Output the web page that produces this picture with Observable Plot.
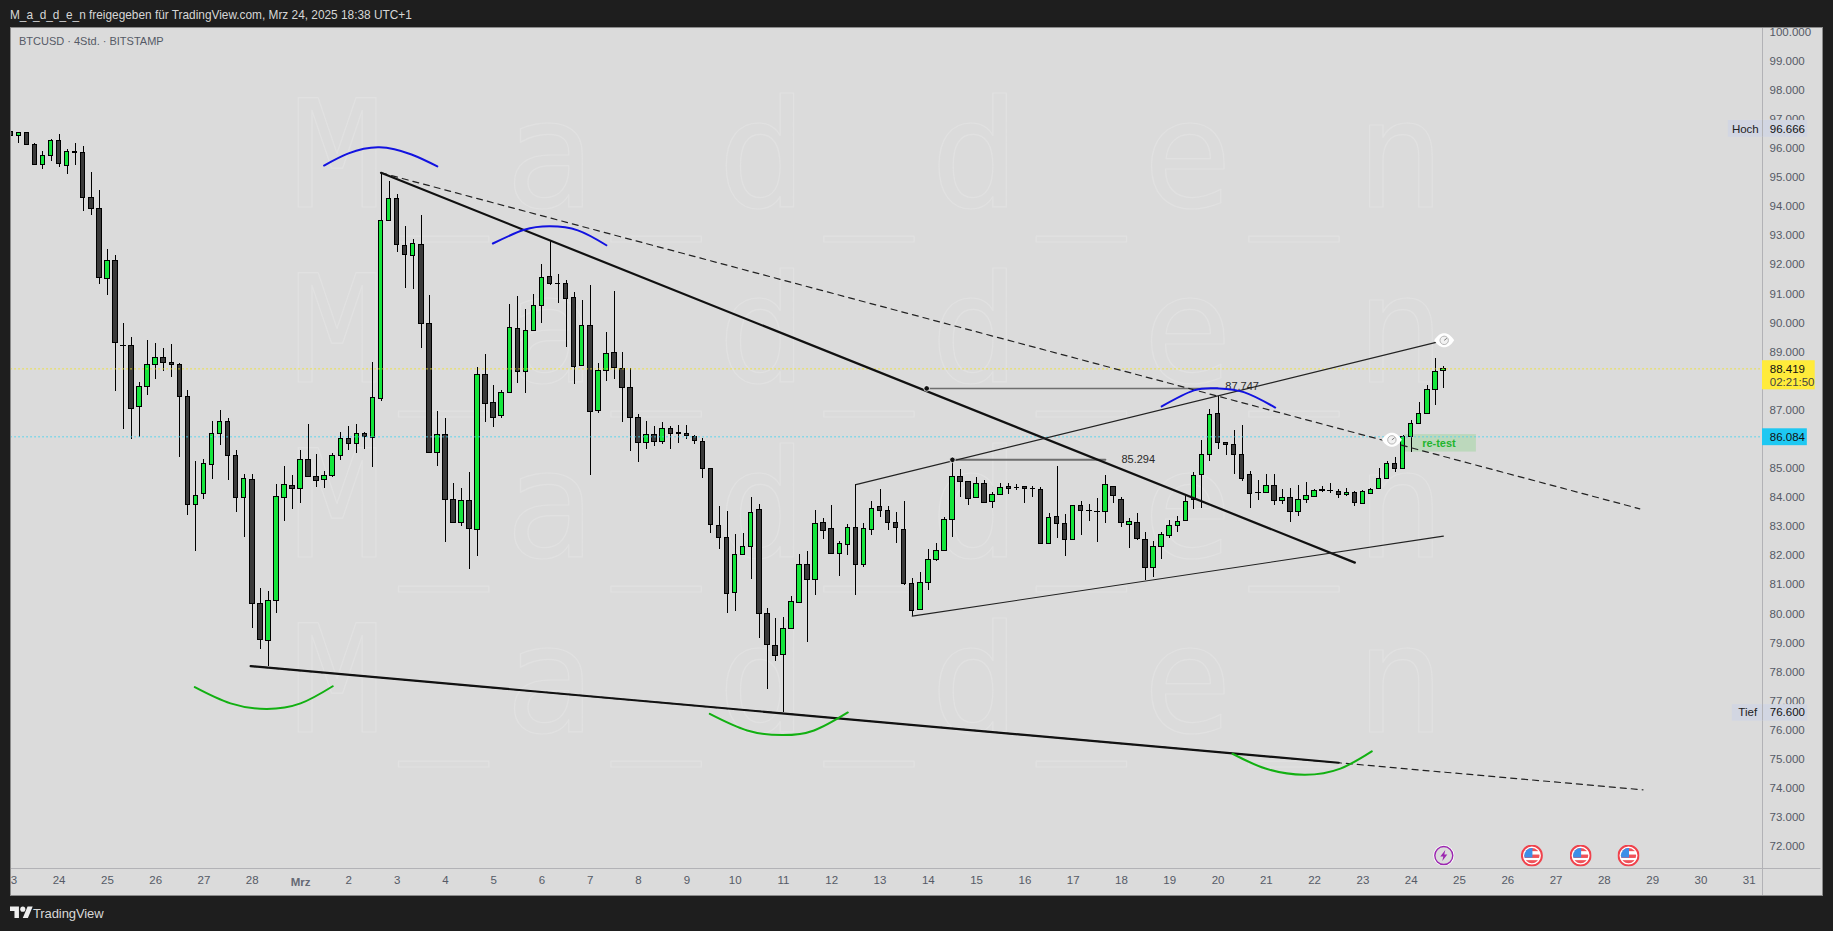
<!DOCTYPE html>
<html lang="de">
<head>
<meta charset="utf-8">
<script src="https://cdn.jsdelivr.net/npm/d3@7"></script>
<script src="https://cdn.jsdelivr.net/npm/@observablehq/plot@0.6"></script>
<style>
html,body{margin:0;padding:0;width:1833px;height:931px;overflow:hidden;background:#1e1e1e;font-family:"Liberation Sans",Arial,sans-serif}
#head{position:absolute;left:10px;top:7px;font-size:11.85px;line-height:16px;color:#d6d6d6;white-space:nowrap}
#chart{position:absolute;left:10px;top:27px;width:1813px;height:869px;overflow:hidden;outline:1px solid #8b8b8b;outline-offset:-1px}
#chart svg{display:block;overflow:hidden}
.wm text{letter-spacing:16px}
#foot{position:absolute;left:10px;top:904px;height:18px;display:flex;align-items:center;color:#d8d8d8;font-size:13px;letter-spacing:-.1px}
#foot svg{width:23px;height:18px;margin-right:0;fill:#eee}
</style>
</head>
<body>
<div id="head">M_a_d_d_e_n freigegeben für TradingView.com, Mrz 24, 2025 18:38 UTC+1</div>
<div id="chart"></div>
<div id="foot"><svg viewBox="0 0 36 28"><path d="M14 22H7V11H0V4h14v18zM28 22h-8l7.5-18h8L28 22z"/><circle cx="20" cy="8" r="4"/></svg>TradingView</div>
<script>
// 4h candles (thousand USD), candle 0 = 23 Feb 2025 00:00 UTC
const open = [96.57,96.43,96.52,96.12,95.43,95.74,96.26,95.40,95.88,95.85,94.30,93.92,91.52,92.13,89.22,89.21,87.12,87.80,88.56,88.80,88.63,88.56,87.46,83.73,84.12,85.12,86.19,86.60,85.43,83.99,84.61,80.34,79.07,80.45,83.99,84.40,84.30,85.29,84.71,84.61,84.74,85.43,86.02,85.84,86.19,86.05,87.39,93.51,94.27,92.65,92.29,92.68,89.97,85.54,86.15,83.92,83.13,83.88,82.89,88.22,87.25,86.81,87.60,89.80,88.32,89.73,90.59,91.58,91.35,91.34,90.86,88.53,89.90,86.98,88.35,88.97,88.42,87.77,86.74,85.88,86.15,85.91,86.36,86.20,86.19,86.08,85.91,84.98,83.03,82.61,80.72,82.03,82.30,83.57,80.00,78.90,78.59,79.48,80.38,81.68,81.17,83.13,82.92,82.06,82.38,82.96,81.68,82.89,83.68,83.54,83.13,82.89,81.03,80.13,81.07,81.86,82.17,83.23,84.71,84.54,83.99,84.47,83.85,84.09,84.37,84.32,84.37,84.29,84.26,82.41,83.33,83.09,82.54,83.71,83.54,83.51,83.49,84.37,83.92,83.06,83.13,82.54,81.58,82.30,82.68,83.03,83.20,83.92,84.78,85.47,86.88,85.88,85.81,85.47,84.78,84.17,84.16,84.40,83.88,83.99,83.51,83.92,84.02,84.22,84.23,84.19,84.09,84.16,83.78,84.12,84.30,84.64,85.16,84.98,86.08,86.53,86.88,87.70,88.35];
const high = [96.67,96.56,96.52,96.17,95.88,96.30,96.48,95.95,96.17,96.06,95.17,94.55,92.52,92.32,89.97,89.49,87.95,89.40,89.29,89.12,89.26,88.59,87.68,85.24,85.29,86.60,86.99,86.70,85.61,84.79,84.79,80.87,80.77,84.45,85.06,84.75,85.61,86.51,85.48,84.89,85.50,86.22,86.44,86.51,86.23,88.63,95.17,94.86,94.41,93.31,92.87,93.69,90.94,86.94,86.70,84.47,84.30,84.85,88.46,88.90,87.85,87.68,90.62,90.91,90.46,90.98,92.01,92.81,91.66,91.46,91.05,90.77,91.29,88.60,89.66,91.08,88.98,88.42,86.84,86.60,86.44,86.58,86.43,86.47,86.47,86.13,86.01,84.98,83.69,83.52,82.73,82.75,83.99,83.75,80.17,79.84,79.87,80.59,82.04,82.14,83.55,83.28,83.72,82.49,83.06,84.45,83.09,83.86,84.26,83.69,83.48,83.86,81.20,81.41,82.21,82.42,83.30,85.29,84.95,84.54,84.68,84.57,84.16,84.48,84.47,84.43,84.38,84.39,84.33,83.44,85.05,83.41,83.71,83.86,83.76,83.95,84.74,84.37,83.99,83.27,83.44,82.78,82.48,82.78,83.20,83.33,84.06,84.85,85.96,87.01,87.47,85.88,86.30,86.46,84.88,84.57,84.78,84.78,84.26,84.30,84.40,84.50,84.26,84.37,84.48,84.26,84.30,84.19,84.23,84.30,84.98,85.23,85.36,86.12,86.63,87.25,87.84,88.77,88.50];
const low = [96.43,96.18,96.12,95.43,95.28,95.56,95.35,95.11,95.42,93.84,93.70,91.33,90.95,87.65,86.32,85.98,86.07,87.50,88.06,88.34,88.13,85.37,83.39,82.15,83.94,84.63,85.80,84.59,83.49,82.63,79.50,78.78,78.20,80.02,83.18,83.60,83.80,84.71,84.35,84.32,84.67,85.27,85.61,85.52,85.66,85.04,87.31,93.51,92.43,91.19,91.16,89.13,85.54,85.07,82.46,83.13,83.01,81.52,81.98,86.59,86.41,86.72,87.60,87.93,87.58,89.69,89.99,91.28,90.66,89.14,87.87,88.49,84.74,86.88,88.00,88.05,86.59,85.59,85.21,85.66,85.76,85.83,85.66,85.87,85.98,85.83,84.66,82.77,82.22,80.02,80.09,81.99,81.19,79.16,77.41,78.37,76.60,79.45,80.34,79.02,80.64,82.57,82.06,81.29,82.00,80.62,81.60,82.70,83.32,82.87,82.43,80.96,79.91,80.10,80.81,81.79,82.17,82.62,83.99,83.73,83.99,83.82,83.62,84.06,84.10,84.24,83.78,83.99,82.41,82.41,82.58,81.98,82.54,82.69,83.17,82.45,83.11,83.78,82.98,82.25,82.53,81.14,81.26,81.88,82.58,82.80,83.20,83.57,83.61,85.25,85.66,85.45,84.80,84.56,83.63,83.90,84.16,83.73,83.75,83.15,83.36,83.80,83.99,84.16,84.12,83.97,84.04,83.70,83.78,84.09,84.26,84.60,84.85,84.95,85.55,86.53,86.88,87.17,87.73];
const close = [96.43,96.52,96.12,95.43,95.73,96.26,95.47,95.87,95.83,94.30,93.92,91.55,92.13,89.32,89.20,87.05,87.80,88.56,88.80,88.61,88.56,87.46,83.73,84.06,85.16,86.19,86.60,85.43,83.99,84.64,80.34,79.10,80.45,84.02,84.43,84.30,85.29,84.71,84.57,84.74,85.43,86.02,85.84,86.19,86.08,87.43,93.51,94.27,92.68,92.33,92.72,89.97,85.54,86.15,83.92,83.13,83.88,82.92,88.22,87.22,86.74,87.60,89.83,88.32,89.73,90.59,91.55,91.34,91.33,90.83,88.49,89.90,86.94,88.35,88.94,88.46,87.77,86.74,85.88,86.15,85.91,86.36,86.19,86.18,86.12,85.95,84.98,83.06,82.61,80.69,82.03,82.30,83.47,80.00,78.93,78.56,79.48,80.41,81.68,81.17,83.09,82.85,82.06,82.41,82.96,81.68,82.92,83.61,83.54,83.13,82.96,81.03,80.10,81.07,81.86,82.17,83.23,84.71,84.54,83.95,84.47,83.82,84.09,84.33,84.30,84.31,84.30,84.28,82.41,83.30,83.09,82.54,83.71,83.53,83.52,83.49,84.43,84.06,83.13,83.16,82.56,81.58,82.30,82.72,83.03,83.16,83.85,84.74,85.47,86.84,85.88,85.80,85.45,84.63,84.12,84.15,84.40,83.88,83.99,83.51,83.92,84.06,84.23,84.24,84.21,84.09,84.16,83.82,84.19,84.26,84.64,85.16,84.98,86.08,86.53,86.88,87.70,88.32,88.42];

const priceTicks = d3.range(72, 101);
const monthLabel = "Mrz";
const febDays = [23,24,25,26,27,28];
const marDays = d3.range(2, 32);

// annotations: [candle index, price]
const thickDown = [[46,95.16],[167,81.76]];
const thickBottom = [[29.8,78.20],[165,74.88]];
const dashedDown = [[46,95.16],[202.4,83.61]];
const dashedBottom = [[29.8,78.20],[202.8,73.95]];
const thinUpper = [[105,84.44],[178.1,89.40]];
const thinLower = [[112,79.92],[178,82.67]];
const level85 = [[117,85.294],[136,85.294]];
const level87 = [[113.8,87.747],[150,87.747]];
const blueArcs = [
  [[38.92,95.41],[41.96,95.83],[45.79,96.04],[49.79,95.79],[53,95.38]],
  [[59.9,92.73],[63.8,93.20],[67,93.32],[70.45,93.18],[74,92.67]],
  [[143,87.13],[147,87.68],[149.9,87.75],[153.2,87.62],[157.1,87.09]]
];
const greenArcs = [
  [[22.86,77.48],[27.3,76.92],[31.77,76.73],[36,76.92],[40,77.51]],
  [[86.85,76.56],[91.5,75.99],[95.85,75.83],[99.8,75.99],[104,76.61]],
  [[151.8,75.19],[155.9,74.68],[160.7,74.47],[165.2,74.68],[169.1,75.27]]
];
const eyes = [[178.1,89.40],[171.6,85.98]];
const anchorsDots = [[117,85.294],[113.8,87.747]];
const levelLabels = [{i:138,p:85.294,s:"85.294"},{i:150.9,p:87.80,s:"87.747"}];
const watermarkRows = [95.65,89.63,83.62,77.60];
const lastPrice = 88.419, prevPrice = 86.084;
const flagEvents = [189,195.05,201];
const boltEvents = [178.05];

const t0 = Date.UTC(2025,1,23);
const T = i => new Date(t0 + i*4*3600e3);
const toRows = a => a.map(([i,p]) => ({x:T(i), y:p}));
const candles = open.map((o,i)=>({x:T(i), x1:T(i-0.28), x2:T(i+0.28), o, h:high[i], l:low[i], c:close[i], up:close[i]>=o}));
const dayTicks = [...febDays.map(d=>new Date(Date.UTC(2025,1,d))), ...marDays.map(d=>new Date(Date.UTC(2025,2,d)))];

const line = (a,o) => Plot.line(toRows(a),{x:"x",y:"y",...o});
const flagSvg = "data:image/svg+xml,"+encodeURIComponent(`<svg xmlns='http://www.w3.org/2000/svg' viewBox='0 0 22 22'><circle cx='11' cy='11' r='10' fill='#fff' stroke='#f0424c' stroke-width='2'/><clipPath id='c'><circle cx='11' cy='11' r='7.6'/></clipPath><g clip-path='url(#c)'><rect width='22' height='22' fill='#fff'/><rect y='10' width='22' height='3.4' fill='#f0525a'/><rect y='3' width='22' height='3.6' fill='#f0525a'/><rect y='15.6' width='22' height='4' fill='#f0525a'/><rect width='11.5' height='10' y='3' fill='#3d8fe8'/></g></svg>`);
const boltSvg = "data:image/svg+xml,"+encodeURIComponent(`<svg xmlns='http://www.w3.org/2000/svg' viewBox='0 0 22 22'><circle cx='11' cy='11' r='10.5' fill='#fff'/><circle cx='11' cy='11' r='9' fill='#dbdbdb' stroke='#9c27b0' stroke-width='1.4'/><path d='M12.5 5.5 7.5 12h3l-1 4.5 5-6.5h-3z' fill='#9c27b0'/></svg>`);
const eyeSvg = "data:image/svg+xml,"+encodeURIComponent(`<svg xmlns='http://www.w3.org/2000/svg' viewBox='0 0 22 16'><path d='M1 8C5 2 8 1 11 1s6 1 10 7c-4 6-7 7-10 7S5 14 1 8z' fill='#fff'/><circle cx='11' cy='8' r='4.2' fill='#f2f2f2' stroke='#b5b5b5' stroke-width='1'/><path d='M11 8l2.6-2' stroke='#777' stroke-width='1'/></svg>`);

const fontUI = "Liberation Sans";
const chart = Plot.plot({
  width: 1813, height: 869,
  marginLeft: 1, marginRight: 61, marginTop: 0, marginBottom: 28,
  x: {type:"utc", domain:[T(0.087), T(217.65)], range:[1,1752]},
  y: {type:"linear", domain:[71.245,100.155], range:[841,0]},
  style: {background:"#dbdbdb", fontFamily:fontUI, overflow:"hidden"},
  marks: [
    // watermark
    Plot.text(watermarkRows,{x:()=>T(107.6), y:d=>d, text:()=>"M_a_d_d_e_n", fontSize:150, fontFamily:"DejaVu Sans Mono", fill:"none", stroke:"#e1e1e1", strokeWidth:1.2, className:"wm"}),
    // axes
    Plot.axisY(priceTicks,{anchor:"right", tickSize:0, tickPadding:7, tickFormat:d=>d.toFixed(3), fontSize:11.5, color:"#555a66"}),
    Plot.axisX(dayTicks,{anchor:"bottom", tickSize:0, tickPadding:7, tickFormat:d=>String(d.getUTCDate()), fontSize:11.5, color:"#555a66"}),
    Plot.text([monthLabel],{x:()=>new Date(Date.UTC(2025,2,1)), y:()=>70.78, text:d=>d, fontSize:11.5, fontWeight:"bold", fill:"#666a74"}),
    Plot.ruleX([T(217.65)],{y1:100.2,y2:70.2,stroke:"#b2b2b6"}),
    Plot.ruleY([71.245],{x1:T(0),x2:T(224.9),stroke:"#b2b2b6"}),
    // re-test zone
    Plot.rect([0],{x1:()=>T(173.2),x2:()=>T(182.1),y1:()=>85.56,y2:()=>86.16,fill:"#bcd8bc"}),
    // candles
    Plot.ruleX(candles,{x:"x",y1:"l",y2:"h",stroke:"#000",strokeWidth:1,shapeRendering:"crispEdges"}),
    Plot.rect(candles,{x1:"x1",x2:"x2",y1:"o",y2:"c",fill:d=>d.up?"#14e63c":"#3a3a3a",stroke:"#000",strokeWidth:1,shapeRendering:"crispEdges"}),
    // last price lines
    Plot.ruleY([lastPrice],{x1:T(0),x2:T(217.6),stroke:"#f0e020",strokeDasharray:"1.5 2.5"}),
    Plot.ruleY([prevPrice],{x1:T(0),x2:T(217.6),stroke:"#3fd3f0",strokeDasharray:"1.5 2.5"}),
    // levels
    line(level85,{stroke:"#6e6e6e",strokeWidth:2}),
    line(level87,{stroke:"#6e6e6e",strokeWidth:1.5}),
    Plot.text(levelLabels,{x:d=>T(d.i),y:"p",text:"s",textAnchor:"start",fontSize:11,fill:"#2a2a2a"}),
    // trend lines
    line(dashedDown,{stroke:"#222",strokeWidth:1.2,strokeDasharray:"6 5"}),
    line(dashedBottom,{stroke:"#222",strokeWidth:1.2,strokeDasharray:"6 5"}),
    line(thickDown,{stroke:"#111",strokeWidth:2.2}),
    line(thickBottom,{stroke:"#111",strokeWidth:2.2}),
    line(thinUpper,{stroke:"#222",strokeWidth:1.1}),
    line(thinLower,{stroke:"#222",strokeWidth:1.1}),
    ...blueArcs.map(a=>line(a,{stroke:"#1212e0",strokeWidth:2,curve:"natural"})),
    ...greenArcs.map(a=>line(a,{stroke:"#12b012",strokeWidth:2,curve:"natural"})),
    Plot.dot(anchorsDots,{x:d=>T(d[0]),y:d=>d[1],r:2.8,fill:"#111",stroke:"#fff",strokeWidth:.8}),
    // eyes
    Plot.image(eyes,{x:d=>T(d[0]),y:d=>d[1],src:()=>eyeSvg,width:22,height:16,preserveAspectRatio:"none"}),
    Plot.text(["re-test"],{x:()=>T(177.45),y:()=>85.84,text:d=>d,fontSize:11,fontWeight:"bold",fill:"#22b52e"}),
    // events
    Plot.image(flagEvents,{x:d=>T(d),y:()=>71.69,src:()=>flagSvg,width:22,height:22}),
    Plot.image(boltEvents,{x:d=>T(d),y:()=>71.69,src:()=>boltSvg,width:22,height:22}),
    // price tags
    Plot.rect([0],{x1:()=>T(213.4),x2:()=>T(223.26),y1:()=>96.38,y2:()=>96.96,fill:"#d2d6e2"}),
    Plot.rect([0],{x1:()=>T(213.9),x2:()=>T(223.26),y1:()=>76.31,y2:()=>76.88,fill:"#d2d6e2"}),
    Plot.rect([0],{x1:()=>T(217.65),x2:()=>T(224.2),y1:()=>87.70,y2:()=>88.70,fill:"#ffeb3b"}),
    Plot.rect([0],{x1:()=>T(217.65),x2:()=>T(223.22),y1:()=>85.78,y2:()=>86.36,fill:"#1ec8f2"}),
    Plot.ruleX([T(217.65)],{y1:96.38,y2:96.96,stroke:"#b2b2b6"}),
    Plot.ruleX([T(217.65)],{y1:76.31,y2:76.88,stroke:"#b2b2b6"}),
    Plot.text(["Hoch"],{x:()=>T(213.85),y:()=>96.666,text:d=>d,textAnchor:"start",fontSize:11.5,fill:"#222"}),
    Plot.text(["Tief"],{x:()=>T(214.65),y:()=>76.60,text:d=>d,textAnchor:"start",fontSize:11.5,fill:"#222"}),
    Plot.text(["96.666"],{x:()=>T(218.55),y:()=>96.666,text:d=>d,textAnchor:"start",fontSize:11.5,fill:"#111"}),
    Plot.text(["76.600"],{x:()=>T(218.55),y:()=>76.60,text:d=>d,textAnchor:"start",fontSize:11.5,fill:"#111"}),
    Plot.text(["88.419"],{x:()=>T(218.55),y:()=>88.419,text:d=>d,textAnchor:"start",fontSize:11.5,fill:"#111"}),
    Plot.text(["02:21:50"],{x:()=>T(218.55),y:()=>87.95,text:d=>d,textAnchor:"start",fontSize:11.5,fill:"#444"}),
    Plot.text(["86.084"],{x:()=>T(218.55),y:()=>86.084,text:d=>d,textAnchor:"start",fontSize:11.5,fill:"#111"}),
    // symbol header
    Plot.text(["BTCUSD · 4Std. · BITSTAMP"],{frameAnchor:"top-left",dx:7.5,dy:10,text:d=>d,fontSize:11,fill:"#555a66",textAnchor:"start"})
  ]
});
document.getElementById("chart").appendChild(chart);
</script>
</body>
</html>
